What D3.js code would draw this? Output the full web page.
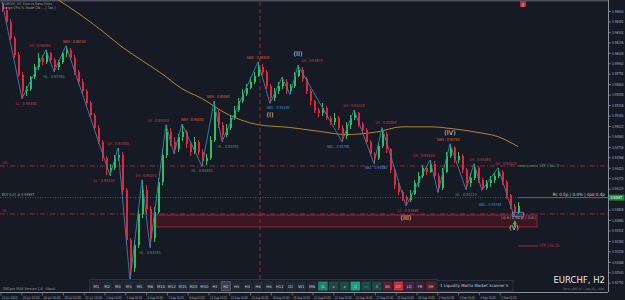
<!DOCTYPE html>
<html>
<head>
<meta charset="utf-8">
<script src="https://cdn.jsdelivr.net/npm/d3@7"></script>
<style>
html, body { margin: 0; padding: 0; background: #151a25; }
svg { display: block; font-family: "DejaVu Sans", sans-serif; }
</style>
</head>
<body>
<svg id="chart" width="625" height="300"></svg>
<script>
// EURCHF H2 candles
var firstOpen = 0.9674;
var closes = [0.9666,0.9649,0.9626,0.9602,0.9574,0.9550,0.9553,0.9570,0.9584,0.9598,
  0.9592,0.9604,0.9595,0.9584,0.9592,0.9604,0.9609,0.9598,0.9578,0.9564,
  0.9550,0.9533,0.9517,0.9499,0.9479,0.9456,0.9439,0.9442,0.9456,0.9460,
  0.9411,0.9340,0.9300,0.9333,0.9376,0.9411,0.9383,0.9343,0.9380,0.9422,
  0.9460,0.9493,0.9479,0.9468,0.9485,0.9493,0.9475,0.9465,0.9479,0.9465,
  0.9451,0.9456,0.9482,0.9521,0.9503,0.9489,0.9499,0.9513,0.9524,0.9536,
  0.9547,0.9555,0.9564,0.9572,0.9584,0.9578,0.9558,0.9541,0.9550,0.9558,
  0.9564,0.9550,0.9558,0.9572,0.9581,0.9567,0.9550,0.9536,0.9524,0.9519,
  0.9527,0.9513,0.9507,0.9513,0.9499,0.9487,0.9502,0.9513,0.9519,0.9504,
  0.9496,0.9479,0.9462,0.9456,0.9473,0.9490,0.9468,0.9439,0.9417,0.9408,
  0.9400,0.9397,0.9405,0.9420,0.9431,0.9442,0.9436,0.9448,0.9431,0.9414,
  0.9436,0.9459,0.9470,0.9453,0.9459,0.9439,0.9420,0.9428,0.9442,0.9425,
  0.9414,0.9420,0.9425,0.9431,0.9436,0.9422,0.9403,0.9388,0.9380,0.9388];
var highs = [0.9677,0.9669,0.9652,0.9629,0.9606,0.9578,0.9558,0.9572,0.9589,0.9604,
  0.9602,0.9609,0.9606,0.9598,0.9595,0.9606,0.9615,0.9612,0.9601,0.9581,
  0.9567,0.9553,0.9536,0.9520,0.9502,0.9482,0.9459,0.9448,0.9460,0.9470,
  0.9465,0.9414,0.9343,0.9340,0.9383,0.9425,0.9417,0.9388,0.9386,0.9428,
  0.9468,0.9503,0.9499,0.9485,0.9490,0.9504,0.9496,0.9479,0.9485,0.9482,
  0.9468,0.9462,0.9487,0.9536,0.9524,0.9507,0.9504,0.9517,0.9530,0.9541,
  0.9553,0.9561,0.9570,0.9578,0.9592,0.9589,0.9581,0.9561,0.9555,0.9564,
  0.9570,0.9567,0.9561,0.9578,0.9587,0.9584,0.9570,0.9553,0.9538,0.9527,
  0.9533,0.9530,0.9516,0.9519,0.9516,0.9502,0.9507,0.9517,0.9524,0.9521,
  0.9507,0.9499,0.9482,0.9465,0.9479,0.9499,0.9493,0.9470,0.9442,0.9420,
  0.9411,0.9403,0.9411,0.9425,0.9436,0.9446,0.9445,0.9453,0.9451,0.9434,
  0.9442,0.9465,0.9476,0.9473,0.9465,0.9462,0.9442,0.9434,0.9448,0.9445,
  0.9428,0.9425,0.9431,0.9436,0.9442,0.9439,0.9425,0.9405,0.9391,0.9393];
var lows = [0.9663,0.9646,0.9623,0.9598,0.9570,0.9540,0.9543,0.9550,0.9567,0.9581,
  0.9587,0.9589,0.9591,0.9578,0.9580,0.9589,0.9599,0.9595,0.9574,0.9560,
  0.9546,0.9529,0.9513,0.9495,0.9475,0.9451,0.9432,0.9431,0.9439,0.9451,
  0.9404,0.9332,0.9281,0.9295,0.9329,0.9371,0.9377,0.9329,0.9337,0.9376,
  0.9418,0.9456,0.9473,0.9462,0.9465,0.9480,0.9470,0.9459,0.9462,0.9460,
  0.9444,0.9446,0.9453,0.9479,0.9499,0.9479,0.9485,0.9496,0.9510,0.9521,
  0.9533,0.9543,0.9553,0.9560,0.9570,0.9574,0.9554,0.9533,0.9537,0.9547,
  0.9554,0.9546,0.9546,0.9555,0.9570,0.9563,0.9546,0.9531,0.9520,0.9514,
  0.9516,0.9509,0.9502,0.9503,0.9495,0.9479,0.9483,0.9497,0.9509,0.9500,
  0.9492,0.9475,0.9458,0.9448,0.9453,0.9470,0.9463,0.9435,0.9412,0.9403,
  0.9395,0.9388,0.9393,0.9403,0.9415,0.9428,0.9432,0.9434,0.9427,0.9407,
  0.9411,0.9434,0.9456,0.9449,0.9449,0.9435,0.9411,0.9415,0.9425,0.9421,
  0.9410,0.9410,0.9415,0.9421,0.9427,0.9418,0.9398,0.9384,0.9374,0.9377];

// moving average, sampled at candle indexes
var maIdx = [14,20,25,30,35,40,45,50,56,64,72,80,86,94,100,107,113,119,124,129];
var maVal = [0.9680,0.9657,0.9636,0.9613,0.9594,0.9575,0.9554,0.9540,0.9519,0.9503,
  0.9499,0.9493,0.9489,0.9493,0.9500,0.9500,0.9497,0.9492,0.9486,0.9472];

// zigzag swing points
var pivotIdx  = [0,5,11,13,16,27,29,32,35,37,41,43,45,50,53,55,64,67,70,72,74,85,88,93,95,101,107,109,112,116,118,120,124,128];
var pivotSide = ['H','L','H','L','H','L','H','L','H','L','H','L','H','L','H','L','H','L','H','L','H','L','H','L','H','L','H','L','H','L','H','L','H','L'];
var pivotTag  = ['','LL','LH','HL','SWH','LL','LH','','LH','HL','LH','','SWH','HL','SWH','HL','SWH','SWL','','','LH','SWL','LH','SWL','LH','LL','LH','','SWH','HL','LH','','LH','SWL'];

var waveIdx  = [67,74,101,112,128];
var waveText = ['(I)','(II)','(III)','(IV)','(V)'];

var priceTicks = [0.96640,0.96492,0.96344,0.96196,0.96048,0.95900,0.95752,0.95604,0.95456,
  0.95308,0.95160,0.95012,0.94864,0.94716,0.94568,0.94420,0.94272,0.94124,0.93976,
  0.93828,0.93680,0.93532,0.93384,0.93236,0.93088,0.92940,0.92792];

var timeLabels = ['24 Jul 2024','25 Jul 10:00','26 Jul 18:00','30 Jul 02:00','31 Jul 10:00',
  '1 Aug 18:00','5 Aug 02:00','6 Aug 10:00','7 Aug 18:00','9 Aug 02:00','12 Aug 10:00',
  '13 Aug 18:00','15 Aug 02:00','16 Aug 10:00','19 Aug 18:00','21 Aug 02:00','22 Aug 10:00',
  '23 Aug 18:00','27 Aug 02:00','28 Aug 10:00','29 Aug 18:00','2 Sep 02:00','3 Sep 10:00',
  '4 Sep 10:00','5 Sep 02:00'];

var buttons = ['M1','M2','M3','M4','M5','M6','M10','M12','M15','M20','M30','H1','H2','H3','H4',
  'H6','H8','H12','D1','W1','MN','3L','x','x','Q','—','S','BS','OT','LQ','FE','SH'];
var buttonFill = ['#232836','#232836','#232836','#232836','#232836','#232836','#232836','#232836',
  '#232836','#232836','#232836','#232836','#3a4050','#232836','#232836','#232836','#232836','#232836',
  '#232836','#232836','#232836','#17866d','#1d4a47','#1d4a47','#17a085','#1d4a47','#1d4a47',
  '#5a1f2c','#c2303f','#4a2236','#3a2232','#5a1f2c'];

var levelShort = 0.94445, levelBuy = 0.93997, levelSL = 0.93765;
var zoneTop = 0.93751, zoneBottom = 0.93581;
var stpLow = 0.93312;

var svg = d3.select('#chart');
var W = 625, H = 300, plotRight = 608;

var x = d3.scaleLinear().domain([-0.5, 129.5]).range([0, 520]);
var y = d3.scaleLinear().domain([0.96640, 0.92792]).range([11, 282.7]);
var fmt = d3.format('.5f');

// squeeze small text horizontally to the narrow terminal font width
function fit(sel, perChar) {
  sel.each(function () {
    var t = d3.select(this);
    var natural = this.getComputedTextLength();
    var s = Math.min(1, this.textContent.length * perChar / natural);
    var x0 = +t.attr('x') || 0;
    t.attr('x', x0 / s).attr('transform', 'scale(' + s + ',1)');
  });
}

svg.append('rect').attr('width', W).attr('height', H).attr('fill', '#151a25');
svg.append('rect').attr('width', W).attr('height', 1.5).attr('fill', '#4a4f5a');

// supply/demand zone
svg.append('rect')
  .attr('x', x(38.5)).attr('y', y(zoneTop))
  .attr('width', x(133.75) - x(38.5)).attr('height', y(zoneBottom) - y(zoneTop))
  .attr('fill', '#3a1722').attr('stroke', '#a8283a').attr('stroke-width', 0.8);

// horizontal levels
function hline(p, color, dash, x0, x1, w) {
  svg.append('line')
    .attr('x1', x0).attr('x2', x1).attr('y1', y(p)).attr('y2', y(p))
    .attr('stroke', color).attr('stroke-width', w || 0.8)
    .attr('stroke-dasharray', dash);
}
hline(levelShort, '#c0283a', '5,2,1,2', 0, plotRight);
hline(levelBuy, '#2f8a3c', '1,1.5', 0, plotRight);
hline(levelSL, '#c0283a', '5,2,1,2', 0, plotRight);
hline(levelShort, '#2e9b45', null, x(129), x(134));
hline(levelBuy, '#2e9b45', null, x(129), plotRight);
hline(stpLow, '#b8283a', null, x(129), x(134));

// vertical marker
svg.append('line')
  .attr('x1', x(64.5)).attr('x2', x(64.5)).attr('y1', 2).attr('y2', 292)
  .attr('stroke', '#b8283a').attr('stroke-width', 0.8).attr('stroke-dasharray', '4,3');

// moving average
svg.append('path')
  .datum(maIdx.map(function (d, i) { return [d, maVal[i]]; }))
  .attr('fill', 'none').attr('stroke', '#b5822a').attr('stroke-width', 1)
  .attr('d', d3.line().curve(d3.curveMonotoneX)
    .x(function (d) { return x(d[0]); }).y(function (d) { return y(d[1]); }));

// candles
var candles = closes.map(function (c, i) {
  return { i: i, o: i === 0 ? firstOpen : closes[i - 1], h: highs[i], l: lows[i], c: c };
});
var cg = svg.append('g').attr('shape-rendering', 'crispEdges');
cg.selectAll('line').data(candles).enter().append('line')
  .attr('x1', function (d) { return Math.round(x(d.i)) + 0.5; })
  .attr('x2', function (d) { return Math.round(x(d.i)) + 0.5; })
  .attr('y1', function (d) { return y(d.h); })
  .attr('y2', function (d) { return y(d.l); })
  .attr('stroke', function (d) { return d.c >= d.o ? '#2fbf5a' : '#e2273c'; })
  .attr('stroke-width', 1);
cg.selectAll('rect').data(candles).enter().append('rect')
  .attr('x', function (d) { return Math.round(x(d.i)) - 0.5; })
  .attr('width', 2)
  .attr('y', function (d) { return y(Math.max(d.o, d.c)); })
  .attr('height', function (d) { return Math.max(1, Math.abs(y(d.o) - y(d.c))); })
  .attr('fill', function (d) { return d.c >= d.o ? '#2fbf5a' : '#e2273c'; });

// zigzag
var pivots = pivotIdx.map(function (p, k) {
  var side = pivotSide[k];
  return { i: p, side: side, tag: pivotTag[k], v: side === 'H' ? highs[p] : lows[p] };
});
svg.append('path').datum(pivots)
  .attr('fill', 'none').attr('stroke', '#2f86b5').attr('stroke-width', 0.9)
  .attr('d', d3.line().x(function (d) { return x(d.i); }).y(function (d) { return y(d.v); }));

// swing captions; a few nudged so neighbours do not collide
var tagColor = { SWH: '#e8602e', LH: '#d23a44', HL: '#35a84a', LL: '#d23a44', SWL: '#3b9ddd' };
var nudge = { 5: 4, 11: -6, 16: 8, 27: -6, 35: 4, 41: -8, 45: 10, 50: 0, 53: 4, 55: 6,
  67: 8, 74: 14, 85: -4, 88: 0, 93: 2, 95: 4, 101: 2, 107: -6, 112: -2, 116: 0, 118: 6, 124: 8, 128: -24 };
var lift = { 128: -16 };
var tl = svg.append('g').selectAll('text')
  .data(pivots.filter(function (d) { return d.tag !== ''; }))
  .enter().append('text')
  .attr('x', function (d) { return x(d.i) + (nudge[d.i] || 0); })
  .attr('y', function (d) { return y(d.v) + (d.side === 'H' ? -3 : 6) + (lift[d.i] || 0); })
  .attr('text-anchor', 'middle')
  .attr('font-size', 4.2)
  .attr('fill', function (d) { return tagColor[d.tag]; })
  .text(function (d) { return d.tag + ' : ' + fmt(d.v); });
fit(tl, 1.75);

svg.append('g').selectAll('text')
  .data(waveIdx)
  .enter().append('text')
  .attr('x', function (d) { return x(d); })
  .attr('y', function (d, k) {
    var p = pivots.filter(function (q) { return q.i === d; })[0];
    return p.side === 'H' ? y(p.v) - 9 : y(p.v) + 14;
  })
  .attr('text-anchor', 'middle').attr('font-size', 6.5).attr('fill', '#d8d8d8')
  .text(function (d, k) { return waveText[k]; });

// last-swing decorations
svg.append('rect').attr('x', x(127.6)).attr('y', y(lows[128]) - 3.5).attr('width', 11).attr('height', 4)
  .attr('fill', 'none').attr('stroke', '#3b9ddd').attr('stroke-width', 0.8);
svg.append('path').attr('d', d3.symbol(d3.symbolDiamond, 12)())
  .attr('transform', 'translate(' + x(128.2) + ',' + (y(zoneTop) + 8.5) + ')').attr('fill', '#27c43f');
var zt = svg.append('text').attr('x', x(133.5)).attr('y', y(zoneTop) + 4.2).attr('text-anchor', 'end')
  .attr('font-size', 3.6).attr('fill', '#b8b8b8').text('| 0.9 | 0.94 pl | -0.8 |');
fit(zt, 1.45);

// level captions
function caption(txt, xx, yy, color, size, anchor, perChar) {
  var t = svg.append('text').attr('x', xx).attr('y', yy).attr('font-size', size || 4.2)
    .attr('fill', color).attr('text-anchor', anchor || 'start').text(txt);
  if (perChar) fit(t, perChar);
  return t;
}
caption('3S.', 2, y(levelShort) - 1.5, '#c0283a');
caption('BUY 0.01 at ' + fmt(levelBuy), 2, y(levelBuy) - 1.5, '#8fa88f', 4, 'start', 1.7);
caption('SL', 2, y(levelSL) - 1.5, '#c0283a');
caption('STP 136.23', x(134.3), y(levelShort) + 1.5, '#2e9b45', 4.4, 'start', 2);
caption('STP 136.26', x(134.3), y(stpLow) + 1.5, '#c0283a', 4.4, 'start', 2);
caption('Rc 0.5p | 0.0% | spd 0.4p', 605, y(levelBuy) - 1.5, '#c8c8c8', 4.4, 'end', 2.1);
caption('EURCHF, H2: Euro vs Swiss Franc', 3, 5, '#9a9a9a', 3.6, 'start', 1.6);
caption('Neige-CPU:% Mode ON  ...  [ Tab ]', 3, 9.5, '#9a9a9a', 3.6, 'start', 1.6);
caption('SMCpro MAX Version 1.6 - About', 3, 290, '#9a9a9a', 3.8, 'start', 1.75);
caption('EURCHF, H2', 605, 283, '#e6e6e6', 8.5, 'end');
caption('Spd: 0.4 | ADRS: 50.2 — Today: 28.2 — 46.0%', 604, 289.6, '#8a8a8a', 3.2, 'end', 0.95);

// red tag at top
svg.append('rect').attr('x', 520).attr('y', 1).attr('width', 6).attr('height', 6).attr('fill', '#b8283a');
svg.append('text').attr('x', 523).attr('y', 5.6).attr('text-anchor', 'middle').attr('font-size', 4)
  .attr('fill', '#f0f0f0').text('||');

// right price axis
svg.append('rect').attr('x', plotRight).attr('y', 0).attr('width', W - plotRight).attr('height', H).attr('fill', '#151a25');
svg.append('line').attr('x1', plotRight + 0.5).attr('x2', plotRight + 0.5).attr('y1', 0).attr('y2', 292)
  .attr('stroke', '#8a8f99').attr('stroke-width', 1);
var axisG = svg.append('g').attr('transform', 'translate(' + (plotRight + 0.5) + ',0)')
  .call(d3.axisRight(y).tickValues(priceTicks).tickFormat(fmt).tickSize(2).tickPadding(1.5));
axisG.select('.domain').remove();
axisG.selectAll('line').attr('stroke', '#8a8f99');
// the live-price tag sits on top of the tick label it covers
axisG.selectAll('.tick').filter(function (d) { return Math.abs(y(d) - y(levelBuy)) < 4; })
  .select('text').remove();
var at = axisG.selectAll('text').attr('fill', '#a8acb4').attr('font-size', 4)
  .attr('font-family', '"DejaVu Sans", sans-serif');
fit(at, 1.65);
svg.append('rect').attr('x', plotRight + 1).attr('y', y(levelBuy) - 3).attr('width', 15.5).attr('height', 6)
  .attr('fill', '#1f8a3a');
caption(fmt(levelBuy), plotRight + 2.5, y(levelBuy) + 1.5, '#ffffff', 4, 'start', 1.65);

// toolbar
var bx = d3.scaleBand().domain(d3.range(buttons.length))
  .range([91.6, 91.6 + buttons.length * 10.75]).paddingInner(0.12);
svg.append('rect').attr('x', 89.5).attr('y', 279.5).attr('width', 348).attr('height', 12.5)
  .attr('fill', '#1a1f2b').attr('stroke', '#2b3140');
var bg = svg.append('g').selectAll('g').data(buttons).enter().append('g')
  .attr('transform', function (d, k) { return 'translate(' + bx(k) + ',281.5)'; });
bg.append('rect').attr('width', bx.bandwidth()).attr('height', 9)
  .attr('fill', function (d, k) { return buttonFill[k]; })
  .attr('stroke', function (d, k) { return d === 'H2' ? '#6a7080' : 'none'; }).attr('stroke-width', 0.6);
bg.append('text').attr('x', bx.bandwidth() / 2).attr('y', 6.2).attr('text-anchor', 'middle')
  .attr('font-size', 3.8).attr('fill', '#c8ccd4').text(function (d) { return d; });
svg.append('rect').attr('x', 437).attr('y', 280.5).attr('width', 76).attr('height', 10.5)
  .attr('fill', '#161b27').attr('stroke', '#3a4050').attr('stroke-width', 0.6);
caption('1 Liquidity Matrix Market Scanner 5', 440, 287.5, '#c8ccd4', 4.2, 'start', 1.95);

// time axis
svg.append('line').attr('x1', 0).attr('x2', plotRight).attr('y1', 292.5).attr('y2', 292.5)
  .attr('stroke', '#8a8f99').attr('stroke-width', 1);
var tx = d3.scaleLinear().domain([0, timeLabels.length - 1]).range([1, 500.2]);
var tg = svg.append('g').selectAll('g').data(timeLabels).enter().append('g')
  .attr('transform', function (d, k) { return 'translate(' + tx(k) + ',293)'; });
tg.append('line').attr('y1', 0).attr('y2', 2.5).attr('stroke', '#8a8f99').attr('stroke-width', 0.6);
var tt = tg.append('text').attr('x', 1).attr('y', 5.8).attr('font-size', 3.8).attr('fill', '#a8acb4')
  .text(function (d) { return d; });
fit(tt, 1.4);
</script>
</body>
</html>
